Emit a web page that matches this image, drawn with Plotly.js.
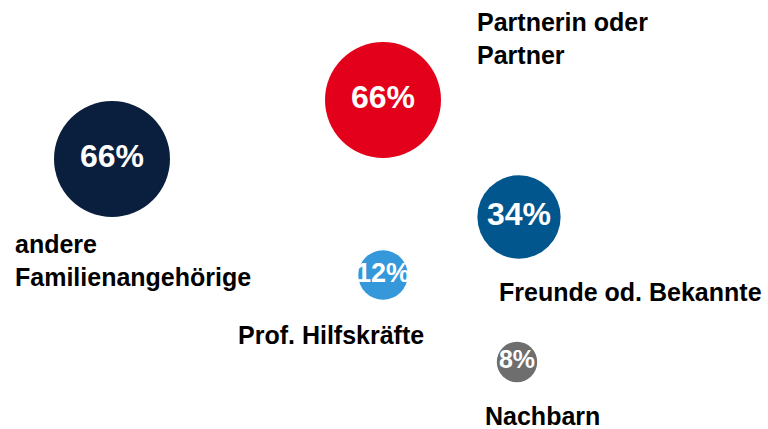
<!DOCTYPE html>
<html>
<head>
<meta charset="utf-8">
<script src="https://cdn.plot.ly/plotly-3.0.1.min.js"></script>
<style>
  html, body { margin: 0; padding: 0; background: #ffffff; }
  #chart { width: 768px; height: 429px; }
</style>
</head>
<body>
<div id="chart"></div>
<script>
// Data
var categories = ["andere Familienangehörige", "Partnerin oder Partner", "Freunde od. Bekannte", "Prof. Hilfskräfte", "Nachbarn"];
var labelTexts = ["andere<br>Familienangehörige", "Partnerin oder<br>Partner", "Freunde od. Bekannte", "Prof. Hilfskräfte", "Nachbarn"];
var values = [66, 66, 34, 12, 8];

// Layout (positions in a 768 x 429 canvas-like coordinate space)
var bubbleX = [112, 383, 519, 383, 517];
var bubbleY = [159, 100, 217, 275, 362];
var labelX = [13, 475, 497, 236, 483];
var labelY = [260, 38, 292, 335, 416];
var colors = ["#0a1f3d", "#e2001a", "#02568e", "#3498db", "#6e6e6e"];
var pctFontSizes = [32, 32, 32, 27, 25];

var trace = {
  type: "scatter",
  mode: "markers+text",
  x: bubbleX,
  y: bubbleY,
  text: values.map(function (v) { return v + "%"; }),
  textposition: "middle center",
  textfont: { family: "Liberation Sans, Arial, sans-serif", size: pctFontSizes, color: "#ffffff", weight: "bold" },
  marker: {
    size: values,
    sizemode: "area",
    sizeref: 132 / (116 * 116),
    color: colors,
    opacity: 1,
    line: { width: 0 }
  },
  hoverinfo: "skip",
  cliponaxis: false
};

var annotations = labelTexts.map(function (t, i) {
  return {
    x: labelX[i], y: labelY[i], xref: "x", yref: "y",
    text: t, showarrow: false,
    xanchor: "left", yanchor: "middle", align: "left",
    font: { family: "Liberation Sans, Arial, sans-serif", size: 25, color: "#000000", weight: "bold" }
  };
});

var layout = {
  width: 768, height: 429,
  margin: { l: 0, r: 0, t: 0, b: 0, pad: 0 },
  paper_bgcolor: "#ffffff", plot_bgcolor: "#ffffff",
  showlegend: false,
  xaxis: { range: [0, 768], visible: false, fixedrange: true },
  yaxis: { range: [429, 0], visible: false, fixedrange: true },
  annotations: annotations
};

Plotly.newPlot("chart", [trace], layout, { displayModeBar: false, staticPlot: true });
</script>
</body>
</html>
